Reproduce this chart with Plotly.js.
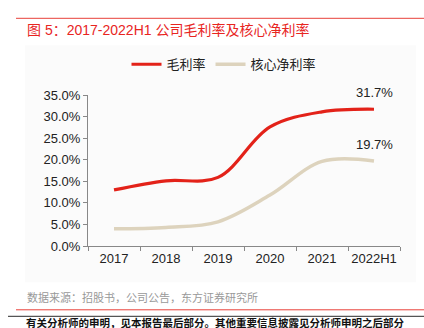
<!DOCTYPE html>
<html><head><meta charset="utf-8">
<script src="https://cdn.plot.ly/plotly-3.0.1.min.js"></script>
<style>html,body{margin:0;padding:0;background:#fff}#c{width:424px;height:328px}</style>
</head><body><div id="c"></div>
<script>
const categories = ['2017','2018','2019','2020','2021','2022H1'];
const grossMargin = [13.0, 15.1, 15.9, 27.6, 31.1, 31.7];
const coreNetMargin = [4.0, 4.3, 5.6, 11.8, 19.6, 19.7];
const seriesNames = ['毛利率','核心净利率'];
const endLabels = ['31.7%','19.7%'];

const L=88, R=400, T=94.7, B=245.7;
const px = x => (x - L) / (R - L);
const py = y => (B - y) / (B - T);
const font = 'Liberation Sans, Arial, "Noto Sans CJK SC", sans-serif';

const traces = [
  {x: categories, y: grossMargin, name: seriesNames[0], type:'scatter', mode:'lines',
   line:{color:'#e32219', width:3.2, shape:'spline', smoothing:1}},
  {x: categories, y: coreNetMargin, name: seriesNames[1], type:'scatter', mode:'lines',
   line:{color:'#ddd3bd', width:3.5, shape:'spline', smoothing:1}}
];

const layout = {
  width:424, height:328,
  margin:{l:L, r:424-R, t:T, b:328-B, pad:0},
  paper_bgcolor:'#ffffff', plot_bgcolor:'rgba(0,0,0,0)',
  font:{family:font, size:13, color:'#222'},
  showlegend:true,
  legend:{orientation:'h', x:px(224), xanchor:'center', y:py(64), yanchor:'middle',
          font:{size:13, color:'#222'}, itemwidth:30, bgcolor:'rgba(0,0,0,0)'},
  xaxis:{type:'category', range:[-0.5,5.5], showline:true, linecolor:'#888', linewidth:1,
         ticks:'outside', tickson:'boundaries', ticklen:4, tickcolor:'#888', tickangle:0,
         showgrid:false, zeroline:false, tickfont:{size:13, color:'#222'}, fixedrange:true},
  yaxis:{range:[0,35], dtick:5, tickformat:'.1f', ticksuffix:'%', showline:true,
         linecolor:'#888', linewidth:1, ticks:'outside', ticklen:4, tickcolor:'#888',
         showgrid:false, zeroline:false, tickfont:{size:13, color:'#222'}, fixedrange:true},
  shapes:[
    {type:'rect', xref:'paper', yref:'paper', x0:px(25), x1:px(416), y0:py(45), y1:py(282),
     fillcolor:'#fbfbfb', line:{width:0}, layer:'below'},
    {type:'line', xref:'paper', yref:'paper', x0:px(16), x1:px(424), y0:py(18), y1:py(18),
     line:{color:'#e8403a', width:1}},
    {type:'line', xref:'paper', yref:'paper', x0:px(16), x1:px(424), y0:py(309.5), y1:py(309.5),
     line:{color:'#e8403a', width:1}},
    {type:'line', xref:'paper', yref:'paper', x0:px(8), x1:px(424), y0:py(316), y1:py(316),
     line:{color:'#555', width:1.2}}
  ],
  annotations:[
    {xref:'paper', yref:'paper', x:px(25), y:py(30), xanchor:'left', yanchor:'middle',
     text:'图 5：2017-2022H1 公司毛利率及核心净利率', showarrow:false,
     font:{size:14, color:'#e8251f', family:font}},
    {xref:'x', yref:'y', x:categories[5], y:grossMargin[5], yshift:17, text:endLabels[0],
     showarrow:false, font:{size:13, color:'#222'}},
    {xref:'x', yref:'y', x:categories[5], y:coreNetMargin[5], yshift:17, text:endLabels[1],
     showarrow:false, font:{size:13, color:'#222'}},
    {xref:'paper', yref:'paper', x:px(25), y:py(297), xanchor:'left', yanchor:'middle',
     text:'数据来源：招股书，公司公告，东方证券研究所', showarrow:false,
     font:{size:11, color:'#999', family:font}},
    {xref:'paper', yref:'paper', x:px(24), y:py(322.5), xanchor:'left', yanchor:'middle',
     text:'<b>有关分析师的申明，见本报告最后部分。其他重要信息披露见分析师申明之后部分</b>',
     showarrow:false, font:{size:10.5, color:'#111', family:font}}
  ]
};
Plotly.newPlot('c', traces, layout, {displayModeBar:false, staticPlot:true});
</script></body></html>
